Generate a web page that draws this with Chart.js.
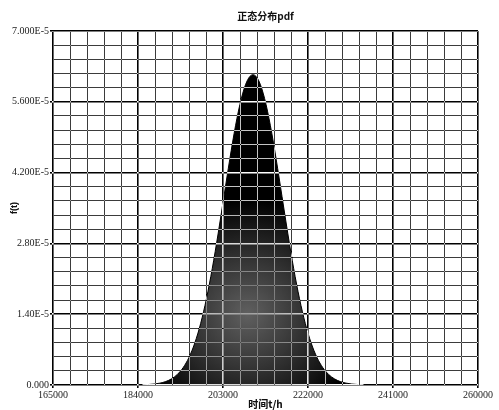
<!DOCTYPE html>
<html>
<head>
<meta charset="utf-8">
<script src="https://cdn.jsdelivr.net/npm/chart.js@4.4.1/dist/chart.umd.min.js"></script>
<style>
    html, body { margin: 0; padding: 0; background: #fff; }
    #wrap { width: 499px; height: 410px; }
</style>
</head>
<body>
<div id="wrap"><canvas id="pdfChart"></canvas></div>
<script>

// time (h) and density f(t)
const hours = [185000, 186300, 187600, 188900, 190200, 191500, 192800, 194100, 195400, 196700,
    198000, 199300, 200600, 201900, 203200, 204500, 205800, 207100, 208400, 209700,
    211000, 212300, 213600, 214900, 216200, 217500, 218800, 220100, 221400, 222700,
    224000, 225300, 226600, 227900, 229200, 230500, 231800, 233100, 234400];
const density = [0.0045e-5, 0.0094e-5, 0.019e-5, 0.037e-5, 0.068e-5, 0.122e-5, 0.209e-5, 0.344e-5, 0.546e-5, 0.831e-5,
    1.215e-5, 1.706e-5, 2.303e-5, 2.987e-5, 3.722e-5, 4.456e-5, 5.126e-5, 5.665e-5, 6.015e-5, 6.137e-5,
    6.015e-5, 5.665e-5, 5.126e-5, 4.456e-5, 3.722e-5, 2.987e-5, 2.303e-5, 1.706e-5, 1.215e-5, 0.831e-5,
    0.546e-5, 0.344e-5, 0.209e-5, 0.122e-5, 0.068e-5, 0.037e-5, 0.019e-5, 0.0094e-5, 0.0045e-5];

const xTickLabels = ['165000', '184000', '203000', '222000', '241000', '260000'];
const yTickLabels = ['0.000', '1.40E-5', '2.80E-5', '4.200E-5', '5.600E-5', '7.000E-5'];

const X_MIN = 165000, X_MAX = 260000, X_STEP = 3800;
const Y_MIN = 0, Y_MAX = 7e-5, Y_STEP = 2.8e-6;
const SUB = 5; // minor lines per major division

const points = hours.map((h, i) => ({ x: h, y: density[i] }));

function shadeFill(context) {
    const area = context.chart.chartArea;
    if (!area) return '#000';
    const ctx = context.chart.ctx;
    const cx = context.chart.scales.x.getPixelForValue(208500);
    const cy = area.bottom - (area.bottom - area.top) * 0.2;
    const g = ctx.createRadialGradient(cx, cy, 0, cx, cy, 115);
    g.addColorStop(0, '#606060');
    g.addColorStop(0.45, '#363636');
    g.addColorStop(1, '#000000');
    return g;
}

// white page under the canvas; grid layer (z: 1) is drawn in difference mode
// so lines come out dark on white and light over the filled curve
const gridBlend = {
    id: 'gridBlend',
    beforeDraw(chart) {
        const ctx = chart.ctx;
        ctx.save();
        ctx.fillStyle = '#fff';
        ctx.fillRect(0, 0, chart.width, chart.height);
        ctx.restore();
    },
    afterDatasetsDraw(chart) {
        chart.ctx.globalCompositeOperation = 'difference';
    },
    afterDraw(chart) {
        chart.ctx.globalCompositeOperation = 'source-over';
    }
};

function lineColor(ctx) {
    return ctx.index % SUB === 0 ? '#ffffff' : '#c4c4c4';
}
function lineWidth(ctx) {
    return ctx.index % SUB === 0 ? 1.6 : 1;
}
function tickMarkColor(ctx) {
    return ctx.index % SUB === 0 ? '#ffffff' : 'rgba(0,0,0,0)';
}

const tickFont = { family: '"Liberation Serif", serif', size: 10 };
// axis titles sit in the blended grid layer, so their colour is inverted
const titleInk = '#f0f0f0';

new Chart(document.getElementById('pdfChart'), {
    type: 'line',
    data: {
        datasets: [{
            data: points,
            borderColor: '#000',
            borderWidth: 1,
            pointRadius: 0,
            cubicInterpolationMode: 'monotone',
            fill: 'origin',
            backgroundColor: shadeFill
        }]
    },
    options: {
        responsive: true,
        maintainAspectRatio: false,
        animation: false,
        events: [],
        layout: { padding: { left: 0, right: 21, top: 0, bottom: 0 } },
        plugins: {
            legend: { display: false },
            tooltip: { enabled: false },
            title: {
                display: true,
                text: '正态分布pdf',
                fullSize: false,
                color: '#111',
                font: { family: '"Noto Sans CJK SC", sans-serif', size: 10, weight: 'bold' },
                padding: { top: 10, bottom: 9 }
            }
        },
        scales: {
            x: {
                type: 'linear',
                min: X_MIN,
                max: X_MAX,
                afterBuildTicks(scale) {
                    const t = [];
                    for (let v = X_MIN; v <= X_MAX; v += X_STEP) t.push({ value: v });
                    scale.ticks = t;
                },
                afterFit(scale) { scale.height = 25; },
                ticks: {
                    autoSkip: false,
                    maxRotation: 0,
                    padding: 1,
                    color: '#222',
                    font: tickFont,
                    callback: (v, i) => (i % SUB === 0 ? xTickLabels[i / SUB] : '')
                },
                grid: {
                    z: 1,
                    color: lineColor,
                    lineWidth: lineWidth,
                    tickColor: tickMarkColor,
                    tickLength: 3
                },
                border: { display: false },
                title: {
                    display: true,
                    text: '时间t/h',
                    color: titleInk,
                    font: { family: '"Noto Sans CJK SC", sans-serif', size: 10, weight: 'bold' },
                    padding: 0
                }
            },
            y: {
                min: Y_MIN,
                max: Y_MAX,
                afterBuildTicks(scale) {
                    const t = [];
                    for (let i = 0; i * Y_STEP <= Y_MAX + 1e-12; i++) t.push({ value: i * Y_STEP });
                    scale.ticks = t;
                },
                afterFit(scale) { scale.width = 53; },
                ticks: {
                    autoSkip: false,
                    padding: 1,
                    color: '#222',
                    font: tickFont,
                    callback: (v, i) => (i % SUB === 0 ? yTickLabels[i / SUB] : '')
                },
                grid: {
                    z: 1,
                    color: lineColor,
                    lineWidth: lineWidth,
                    tickColor: tickMarkColor,
                    tickLength: 3
                },
                border: { display: false },
                title: {
                    display: true,
                    text: 'f(t)',
                    color: titleInk,
                    font: { family: '"Liberation Sans", sans-serif', size: 9, weight: 'bold' },
                    padding: { top: 9, bottom: 0 }
                }
            }
        }
    },
    plugins: [gridBlend]
});
</script>
</body>
</html>
